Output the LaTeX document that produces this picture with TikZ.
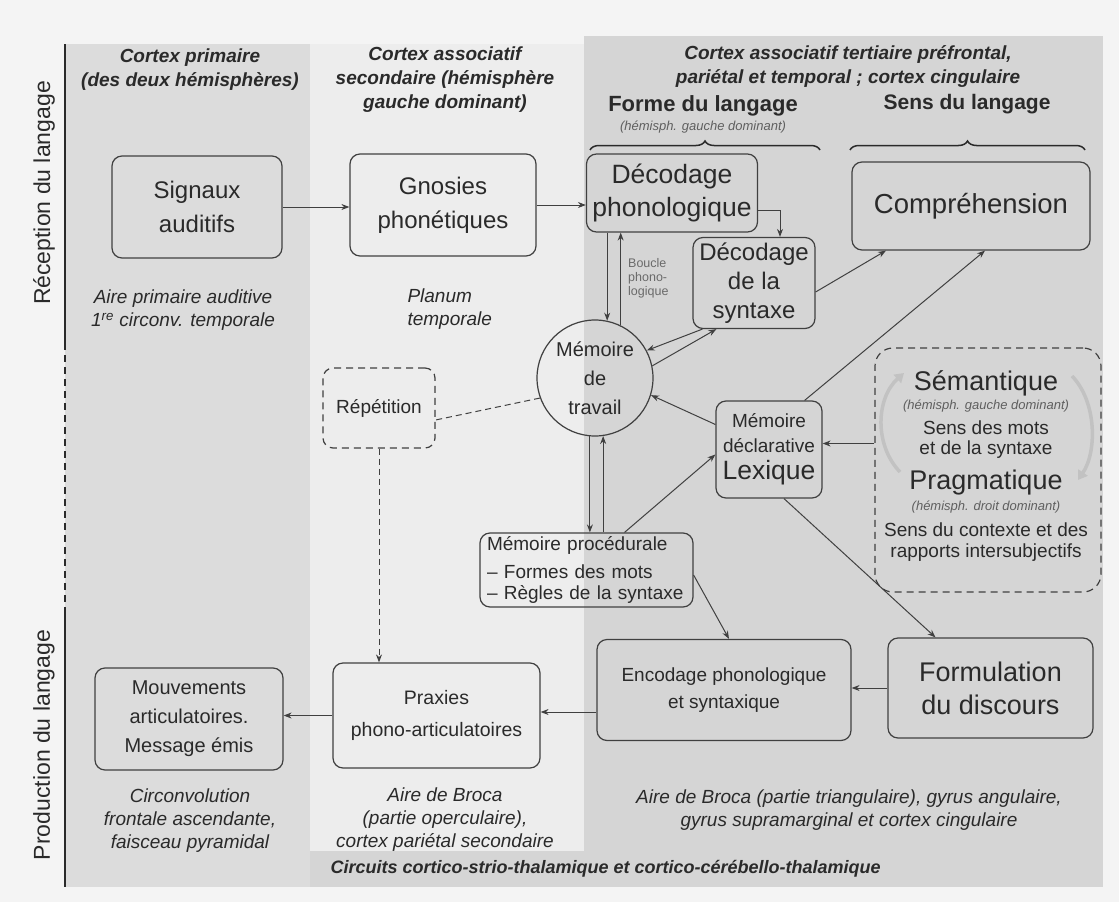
\documentclass[tikz,border=0pt]{standalone}
\usepackage{fontspec}
\setmainfont{Liberation Sans}
\usetikzlibrary{arrows.meta,decorations.pathreplacing,calc}
\definecolor{pagebg}{HTML}{F4F4F4}
\definecolor{bgleft}{HTML}{DCDCDC}
\definecolor{bgmid}{HTML}{EDEDED}
\definecolor{bgright}{HTML}{D5D5D5}
\definecolor{ink}{HTML}{2A2A2A}
\definecolor{edge}{HTML}{404040}
\definecolor{swirl}{HTML}{C2C2C2}
\begin{document}
\begin{tikzpicture}[x=1pt,y=-1pt,
  box/.style={draw=edge, line width=1.2pt, rounded corners=10pt, align=center, inner sep=2pt, text=ink},
  dbox/.style={box, dash pattern=on 7pt off 5pt},
  arr/.style={draw=edge, line width=1pt, -{Stealth[length=8pt,width=6pt]}},
  darr/.style={arr, dash pattern=on 6pt off 4pt},
  dline/.style={draw=edge, line width=1pt, dash pattern=on 6pt off 4pt},
  hdr/.style={font=\fontsize{19}{24}\selectfont\bfseries\itshape, align=center, text=ink},
  lbl/.style={font=\fontsize{19}{23}\selectfont\itshape, align=center, text=ink},
  tinytxt/.style={font=\fontsize{13}{15}\selectfont\itshape, text=ink!75},
  bodytxt/.style={font=\fontsize{19}{22}\selectfont, text=ink},
  bigtxt/.style={font=\fontsize{27}{30}\selectfont, text=ink},
  axis/.style={draw=ink, line width=2pt},
  swirlarrow/.style={draw=swirl, line width=3.5pt, -{Triangle[length=9pt,width=11pt]}},
]
\useasboundingbox (0,0) rectangle (1119,902);
\fill[pagebg] (0,0) rectangle (1119,902);
\fill[bgleft] (65,44) rectangle (310,887);
\fill[bgmid] (310,44) rectangle (584,851);
\fill[bgright] (584,36) rectangle (1103,851);
\fill[bgright] (310,851) rectangle (1103,887);

% vertical axis
\draw[axis] (65,44) -- (65,343);
\draw[axis, dash pattern=on 7pt off 5pt] (65,343) -- (65,613);
\draw[axis] (65,613) -- (65,887);
\node[rotate=90, font=\fontsize{23}{26}\selectfont, text=ink] (rec) at (44,193) {Réception du langage};
\node[rotate=90, font=\fontsize{23}{26}\selectfont, text=ink] (prod) at (44,745) {Production du langage};

% headers
\node[hdr] (h1) at (190,70) {Cortex primaire\\(des deux hémisphères)};
\node[hdr] (h2) at (445,80) {Cortex associatif\\secondaire (hémisphère\\gauche dominant)};
\node[hdr] (h3) at (848,67) {Cortex associatif tertiaire préfrontal,\\pariétal et temporal ; cortex cingulaire};
\node[font=\fontsize{22}{26}\selectfont\bfseries, text=ink] (forme) at (703,106) {Forme du langage};
\node[tinytxt] (formeh) at (703,127) {(hémisph. gauche dominant)};
\node[font=\fontsize{21}{26}\selectfont\bfseries, text=ink] (sens) at (967,104) {Sens du langage};
\draw[decorate, decoration={brace, amplitude=9pt}, line width=1.5pt, ink] (590,150) -- (820,150);
\draw[decorate, decoration={brace, amplitude=9pt}, line width=1.5pt, ink] (850,150) -- (1085,150);

% boxes
\node[box, minimum width=170pt, minimum height=102pt, font=\fontsize{24}{34}\selectfont] (sig) at (197,207) {Signaux\\auditifs};
\node[box, minimum width=186pt, minimum height=102pt, font=\fontsize{24}{34}\selectfont] (gno) at (443,205) {Gnosies\\phonétiques};
\node[box, minimum width=171pt, minimum height=78pt, font=\fontsize{26.5}{33}\selectfont] (dph) at (672,193) {Décodage\\phonologique};
\node[box, minimum width=122pt, minimum height=91pt, font=\fontsize{24}{29}\selectfont] (dsy) at (754,283) {Décodage\\de la\\syntaxe};
\node[box, minimum width=238pt, minimum height=88pt, font=\fontsize{27.5}{32}\selectfont] (comp) at (971,206) {Compréhension};
\node[circle, draw=edge, line width=1.2pt, minimum size=116pt, inner sep=0pt, align=center, text=ink, font=\fontsize{20}{29}\selectfont] (mt) at (595,378) {Mémoire\\de\\travail};
\node[dbox, minimum width=112pt, minimum height=80pt, font=\fontsize{19}{22}\selectfont] (rep) at (379,408) {Répétition};
\node[box, minimum width=213pt, minimum height=74pt, text width=199pt, align=left, font=\fontsize{19}{21}\selectfont] (mp) at (586.5,570) {Mémoire procédurale\\[7pt]– Formes des mots\\– Règles de la syntaxe};
\node[box, minimum width=106pt, minimum height=97pt, font=\fontsize{19}{25}\selectfont] (lex) at (769,449.5) {Mémoire\\déclarative\\[2pt]{\fontsize{26.5}{30}\selectfont Lexique}};
\node[dbox, rounded corners=18pt, minimum width=226pt, minimum height=244pt] (sem) at (988,470) {};
\node[box, minimum width=254pt, minimum height=101pt, font=\fontsize{19}{27}\selectfont] (enc) at (724,690) {Encodage phonologique\\et syntaxique};
\node[box, minimum width=205pt, minimum height=100pt, font=\fontsize{27}{33}\selectfont] (form) at (990.5,688) {Formulation\\du discours};
\node[box, minimum width=207pt, minimum height=105pt, font=\fontsize{19.5}{32}\selectfont] (prax) at (436.5,715.5) {Praxies\\phono-articulatoires};
\node[box, minimum width=188pt, minimum height=102pt, font=\fontsize{20}{29}\selectfont] (mouv) at (189,719) {Mouvements\\articulatoires.\\Message émis};

% semantic box content
\node[bigtxt] (s1) at (986,383) {Sémantique};
\node[tinytxt] (s2) at (986,406) {(hémisph. gauche dominant)};
\node[bodytxt] (s3) at (986,428) {Sens des mots};
\node[bodytxt] (s4) at (986,450) {et de la syntaxe};
\node[bigtxt] (s5) at (986,483) {Pragmatique};
\node[tinytxt] (s6) at (986,507) {(hémisph. droit dominant)};
\node[bodytxt] (s7) at (986,530) {Sens du contexte et des};
\node[bodytxt] (s8) at (986,553) {rapports intersubjectifs};
\draw[swirlarrow] (900,472) .. controls (874,445) and (876,398) .. (904,373);
\draw[swirlarrow] (1072,376) .. controls (1097,402) and (1097,452) .. (1078,480);

% labels
\node[lbl] (l1) at (183,310) {Aire primaire auditive\\1\textsuperscript{re} circonv. temporale};
\node[lbl, align=left, anchor=west] (l2) at (404,309) {Planum\\temporale};
\node[lbl] (l3) at (190,821) {Circonvolution\\frontale ascendante,\\faisceau pyramidal};
\node[lbl] (l4) at (445,820) {Aire de Broca\\(partie operculaire),\\cortex pariétal secondaire};
\node[lbl] (l5) at (849,810) {Aire de Broca (partie triangulaire), gyrus angulaire,\\gyrus supramarginal et cortex cingulaire};
\node[font=\fontsize{18}{22}\selectfont\bfseries\itshape, text=ink, anchor=west] (circ) at (327,869) {Circuits cortico-strio-thalamique et cortico-cérébello-thalamique};
\node[font=\fontsize{12.5}{14}\selectfont, text=ink!70, align=left, anchor=north west, inner sep=0pt] (boucle) at (628,258) {Boucle\\phono-\\logique};

% connectors
\coordinate (c1) at (780,0);
\coordinate (lexE) at ([yshift=6pt]lex.east);
\draw[arr] (sig.east) -- (sig.east -| gno.west);
\draw[arr] (gno.east) -- (gno.east -| dph.west);
\draw[arr] ([yshift=-17pt]dph.east) -| (c1 |- dsy.north);
\draw[arr] (mt.78 |- dph.south) -- (mt.78);
\draw[arr] (mt.64) -- (mt.64 |- dph.south);
\draw[arr] ([xshift=10pt]dsy.south west) -- (mt.28);
\draw[arr] (mt.12) -- ([xshift=24pt]dsy.south west);
\draw[arr] ([yshift=-9pt]dsy.east) -- ([xshift=-85pt]comp.south);
\draw[arr] ([xshift=-18pt]lex.north east) -- ([xshift=14pt]comp.south);
\draw[arr] ([yshift=25pt]lex.west) -- (mt.343);
\draw[arr] (sem.west |- lexE) -- (lexE);
\draw[arr] (mt.265) -- (mt.265 |- mp.north);
\draw[arr] (mt.278 |- mp.north) -- (mt.278);
\draw[arr] ([xshift=38pt]mp.north) -- ([yshift=-5pt]lex.west);
\draw[arr] ([yshift=-5pt]mp.east) -- ([xshift=5pt]enc.north);
\draw[arr] ([xshift=15pt]lex.south) -- ([xshift=-55pt]form.north);
\draw[arr] (form.west) -- (form.west -| enc.east);
\draw[arr] ([yshift=-22pt]enc.west) -- ([yshift=-22pt]enc.west -| prax.east);
\draw[arr] (prax.west) -- (prax.west -| mouv.east);
\draw[dline] (mt.200) -- ([yshift=-12pt]rep.east);
\draw[darr] (rep.south) -- (rep.south |- prax.north);
\end{tikzpicture}
\end{document}
